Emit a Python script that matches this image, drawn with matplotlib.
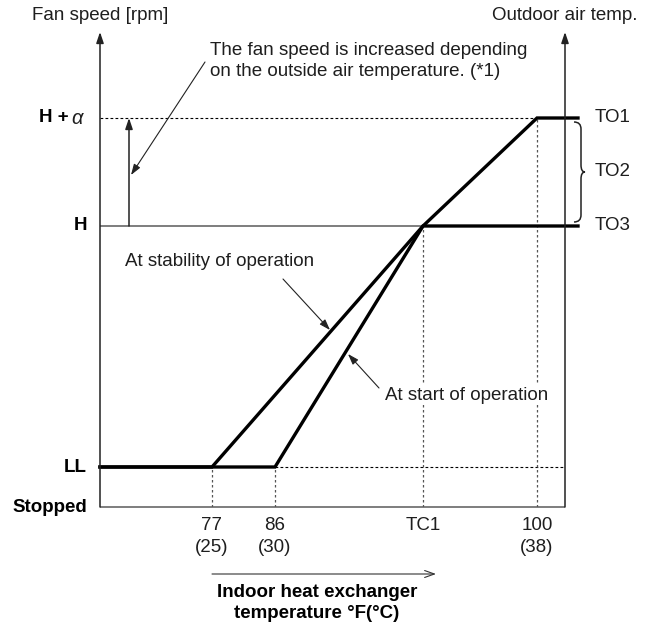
import matplotlib
matplotlib.use("Agg")
import matplotlib.pyplot as plt
from matplotlib.path import Path
from matplotlib.patches import PathPatch

plt.rcParams['font.family'] = ['Liberation Sans', 'DejaVu Sans']
plt.rcParams['mathtext.fontset'] = 'custom'
plt.rcParams['mathtext.it'] = 'Liberation Sans:italic'

# Fan speed levels (schematic vertical positions)
speed_labels = ['Stopped', 'LL', 'H', 'H + ']
speed_levels = [0, 40, 281, 389]
STOP, LL, H, HA = speed_levels

# Indoor heat exchanger temperature ticks (schematic horizontal positions)
temp_labels = ['77\n(25)', '86\n(30)', 'TC1', '100\n(38)']
temp_pos = [112, 175, 323, 437]
T77, T86, TC1, T100 = temp_pos

# Outdoor air temperature bands
outdoor_labels = ['TO1', 'TO2', 'TO3']

X_END = 478     # end of the plateaus
X_AXIS = 465    # right-hand axis
Y_TOP = 475

fig = plt.figure(figsize=(6.51, 6.28), dpi=100)
ax = fig.add_axes([100 / 651, (628 - 507) / 628, 465 / 651, 475 / 628])
ax.set_xlim(0, X_AXIS)
ax.set_ylim(0, Y_TOP)
ax.axis('off')

axis_col = '#5a5a5a'
txt_col = '#1e1e1e'
thin = 1.1
thick = 2.4
fs = 13.5

# Axes frame: left, bottom, right
ax.plot([0, X_AXIS], [0, 0], color=axis_col, lw=thin, clip_on=False, solid_capstyle='butt')
for xa in (0, X_AXIS):
    ax.annotate('', xy=(xa, Y_TOP), xytext=(xa, 0), annotation_clip=False,
                arrowprops=dict(arrowstyle='-|>,head_length=0.65,head_width=0.22',
                                color='#222222', lw=thin, shrinkA=0, shrinkB=0))

# Reference lines
ax.plot([0, T100], [HA, HA], color='black', lw=0.8, ls=(0, (2.5, 2)), clip_on=False)
ax.plot([T86, X_AXIS], [LL, LL], color='black', lw=0.8, ls=(0, (2.5, 2)), clip_on=False)
ax.plot([0, TC1], [H, H], color=axis_col, lw=thin)
for xp, y0 in zip(temp_pos, [LL, LL, H, HA]):
    ax.plot([xp, xp], [0, y0], color='#555555', lw=0.9, ls=(0, (2, 2)))

# Fan speed control curves
stab_x = [0, T77, TC1, T100, X_END]
stab_y = [LL, LL, H, HA, HA]
ax.plot(stab_x, stab_y, color='black', lw=thick, clip_on=False, solid_joinstyle='miter')
start_x = [0, T86, TC1, X_END]
start_y = [LL, LL, H, H]
ax.plot(start_x, start_y, color='black', lw=thick, clip_on=False, solid_joinstyle='miter')

# Increase arrow (H -> H + alpha)
ax.annotate('', xy=(29, HA), xytext=(29, H),
            arrowprops=dict(arrowstyle='-|>,head_length=0.65,head_width=0.22',
                            color='#222222', lw=thin, shrinkA=0, shrinkB=0))

ax.text(110, 446, 'The fan speed is increased depending\non the outside air temperature. (*1)',
        fontsize=fs, ha='left', va='center', linespacing=1.25, color=txt_col)
ax.annotate('', xy=(31, 332), xytext=(105, 445),
            arrowprops=dict(arrowstyle='-|>,head_length=0.65,head_width=0.22',
                            color='#222222', lw=0.8, shrinkA=0, shrinkB=0))

ax.text(25, 245, 'At stability of operation', fontsize=fs, ha='left', va='center', color=txt_col)
ax.annotate('', xy=(230, 177), xytext=(183, 228),
            arrowprops=dict(arrowstyle='-|>,head_length=0.65,head_width=0.22',
                            color='#222222', lw=0.8, shrinkA=0, shrinkB=0))

ax.text(285, 112, 'At start of operation', fontsize=fs, ha='left', va='center', color=txt_col,
        bbox=dict(facecolor='white', edgecolor='none', pad=1))
ax.annotate('', xy=(248, 153), xytext=(279, 119),
            arrowprops=dict(arrowstyle='-|>,head_length=0.65,head_width=0.22',
                            color='#222222', lw=0.8, shrinkA=0, shrinkB=0))

# Brace spanning TO1..TO3
bx0, bv, bx1 = 474, 481, 485
yt, yb = HA - 4, H + 4
ym = (yt + yb) / 2
verts = [(bx0, yt), (bv, yt), (bv, yt - 7), (bv, ym + 7), (bv, ym), (bx1, ym),
         (bv, ym), (bv, ym - 7), (bv, yb + 7), (bv, yb), (bx0, yb)]
codes = [Path.MOVETO, Path.CURVE3, Path.CURVE3, Path.LINETO, Path.CURVE3, Path.CURVE3,
         Path.CURVE3, Path.CURVE3, Path.LINETO, Path.CURVE3, Path.CURVE3]
ax.add_patch(PathPatch(Path(verts, codes), facecolor='none', edgecolor='#222222',
                       lw=1.1, clip_on=False))
for lab, yv in zip(outdoor_labels, [HA, (HA + H) / 2, H]):
    ax.text(495, yv, lab, fontsize=fs, ha='left', va='center', color=txt_col)

# Fan speed level labels
for lab, yv in zip(speed_labels, speed_levels):
    if lab.startswith('H +'):
        ax.text(-31, yv, 'H +', fontsize=fs, fontweight='bold', ha='right', va='center')
        ax.text(-15, yv, r'$\alpha$', fontsize=fs + 1, ha='right', va='center', color=txt_col)
    else:
        ax.text(-13, yv, lab, fontsize=fs, fontweight='bold', ha='right', va='center')

# Temperature tick labels
for lab, xp in zip(temp_labels, temp_pos):
    ax.text(xp, -10, lab, fontsize=fs, ha='center', va='top', linespacing=1.4, color=txt_col)

# Axis titles
ax.text(0, 492, 'Fan speed [rpm]', fontsize=fs, ha='center', va='center', color=txt_col)
ax.text(X_AXIS, 492, 'Outdoor air temp.', fontsize=fs, ha='center', va='center', color=txt_col)

ax.annotate('', xy=(336, -67), xytext=(T77, -67), annotation_clip=False,
            arrowprops=dict(arrowstyle='->,head_length=0.7,head_width=0.25',
                            color='#333333', lw=0.8, shrinkA=0, shrinkB=0))
ax.text(217, -96, 'Indoor heat exchanger\ntemperature °F(°C)', fontsize=fs,
        fontweight='bold', ha='center', va='center', linespacing=1.3)

fig.savefig('out.png', dpi=100)
